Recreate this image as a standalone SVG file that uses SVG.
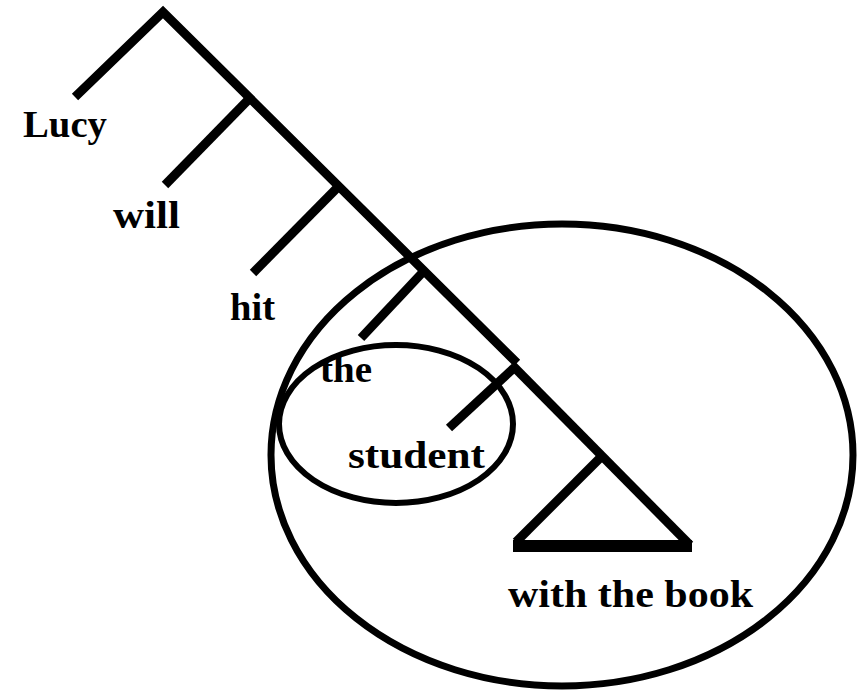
<svg xmlns="http://www.w3.org/2000/svg" width="863" height="695" viewBox="0 0 863 695">
<style>
.ln{stroke:#000;stroke-width:9;fill:none;stroke-linecap:butt}
.el{stroke:#000;fill:none}
.t{font-family:"Liberation Serif","Times New Roman",serif;font-weight:bold;font-size:38px;fill:#000}
</style>
<rect width="863" height="695" fill="#fff"/>
<g id="connectors">
<polyline class="ln" points="75,97 163,12 517,363"/>
<line class="ln" x1="513" y1="366" x2="690" y2="545"/>
<line class="ln" x1="249" y1="99" x2="165" y2="185"/>
<line class="ln" x1="337" y1="188" x2="253" y2="273"/>
<line class="ln" x1="423" y1="272" x2="361" y2="338"/>
<line class="ln" x1="515" y1="367" x2="449" y2="428"/>
<line class="ln" x1="600" y1="458" x2="516" y2="542"/>
<line class="ln" x1="513" y1="546" x2="692" y2="546" style="stroke-width:12"/>
</g>
<g id="big-circle"><ellipse class="el" cx="562" cy="455" rx="291" ry="231" stroke-width="7"/></g>
<g id="small-circle"><ellipse class="el" cx="396" cy="424" rx="117" ry="79" stroke-width="6"/></g>
<g id="labels">
<text class="t" x="23" y="137" textLength="84" lengthAdjust="spacingAndGlyphs">Lucy</text>
<text class="t" x="113" y="228" textLength="67" lengthAdjust="spacingAndGlyphs">will</text>
<text class="t" x="230" y="320" textLength="45" lengthAdjust="spacingAndGlyphs">hit</text>
<text class="t" x="320" y="382" textLength="52" lengthAdjust="spacingAndGlyphs">the</text>
<text class="t" x="348" y="468" textLength="137" lengthAdjust="spacingAndGlyphs">student</text>
<text class="t" x="508" y="607" textLength="245" lengthAdjust="spacingAndGlyphs">with the book</text>
</g>
</svg>
